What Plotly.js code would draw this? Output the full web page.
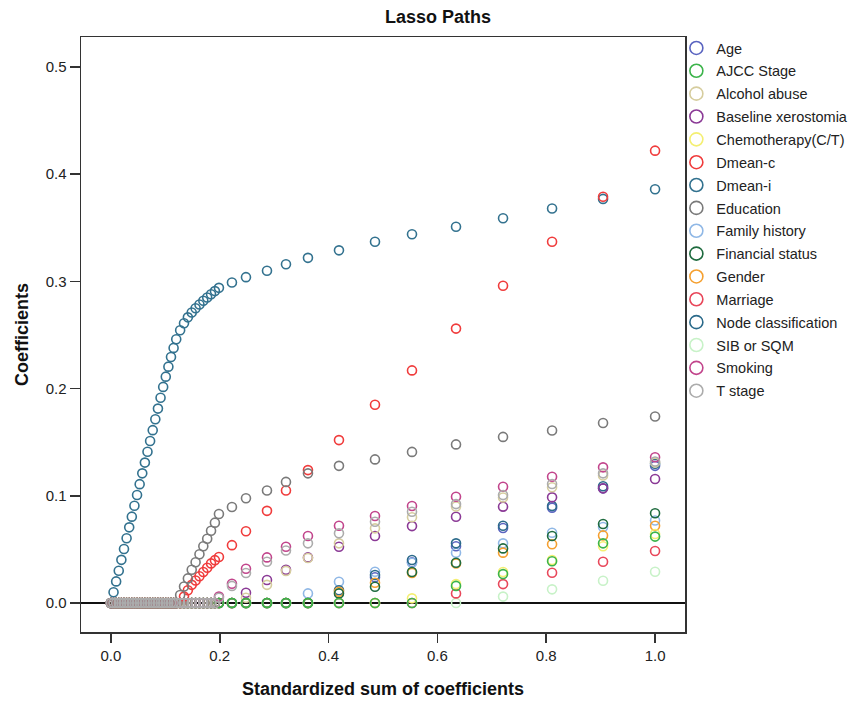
<!DOCTYPE html>
<html>
<head>
<meta charset="utf-8">
<script src="https://cdn.plot.ly/plotly-3.0.1.min.js"></script>
<style>html,body{margin:0;padding:0;background:#fff;}#chart{width:854px;height:705px;}</style>
</head>
<body>
<div id="chart"></div>
<script>
// Standardized sum of coefficients at each step of the path
const xSteps = [0,0.0048,0.0096,0.0144,0.0192,0.024,0.0288,0.0336,0.0384,0.0432,0.048,0.0528,0.0576,0.0624,0.0672,0.072,0.0768,0.0816,0.0864,0.0912,0.096,0.1008,0.1056,0.1104,0.1152,0.12,0.1272,0.1343,0.1414,0.1485,0.1556,0.1627,0.1698,0.1769,0.184,0.1911,0.1985,0.2224,0.2482,0.2868,0.3217,0.3621,0.4191,0.4853,0.5533,0.6342,0.7206,0.8107,0.9044,1.0];

const age = [0,0,0,0,0,0,0,0,0,0,0,0,0,0,0,0,0,0,0,0,0,0,0,0,0,0,0,0,0,0,0,0,0,0,0,0,0,0,0,0,0,0,0,0.024,0.038,0.053,0.070,0.089,0.107,0.128];
const ajcc = [0,0,0,0,0,0,0,0,0,0,0,0,0,0,0,0,0,0,0,0,0,0,0,0,0,0,0,0,0,0,0,0,0,0,0,0,0,0,0,0,0,0,0,0,0,0.016,0.027,0.039,0.0557,0.062];
const alcohol = [0,0,0,0,0,0,0,0,0,0,0,0,0,0,0,0,0,0,0,0,0,0,0,0,0,0,0,0,0,0,0,0,0,0,0,0,0,0,0.005,0.017,0.030,0.042,0.0557,0.0697,0.080,0.090,0.0985,0.108,0.119,0.131];
const baseline = [0,0,0,0,0,0,0,0,0,0,0,0,0,0,0,0,0,0,0,0,0,0,0,0,0,0,0,0,0,0,0,0,0,0,0,0,0,0,0.0096,0.0215,0.031,0.0426,0.0525,0.0625,0.0718,0.0805,0.0899,0.0986,0.107,0.1157];
const chemo = [0,0,0,0,0,0,0,0,0,0,0,0,0,0,0,0,0,0,0,0,0,0,0,0,0,0,0,0,0,0,0,0,0,0,0,0,0,0,0,0,0,0,0,0,0.0044,0.0177,0.029,0.0401,0.053,0.0644];
const dmeanC = [0,0,0,0,0,0,0,0,0,0,0,0,0,0,0,0,0,0,0,0,0,0,0,0,0,0,0,0.006,0.012,0.017,0.021,0.025,0.029,0.033,0.037,0.040,0.043,0.054,0.067,0.086,0.105,0.124,0.152,0.185,0.217,0.256,0.296,0.337,0.379,0.422];
const dmeanI = [0,0.0101,0.0202,0.0302,0.0403,0.0504,0.0605,0.0706,0.0806,0.0907,0.1008,0.1109,0.121,0.131,0.1411,0.1512,0.1613,0.1714,0.1814,0.1915,0.2016,0.2112,0.2205,0.2295,0.238,0.246,0.2545,0.261,0.2665,0.271,0.275,0.2785,0.282,0.285,0.288,0.291,0.294,0.299,0.304,0.310,0.316,0.322,0.329,0.337,0.344,0.351,0.359,0.368,0.377,0.386];
const education = [0,0,0,0,0,0,0,0,0,0,0,0,0,0,0,0,0,0,0,0,0,0,0,0,0,0,0.0075,0.0155,0.023,0.031,0.038,0.0455,0.053,0.060,0.0675,0.075,0.083,0.0896,0.0977,0.105,0.113,0.121,0.128,0.134,0.141,0.148,0.155,0.161,0.168,0.174];
const family = [0,0,0,0,0,0,0,0,0,0,0,0,0,0,0,0,0,0,0,0,0,0,0,0,0,0,0,0,0,0,0,0,0,0,0,0,0,0,0,0,0,0.009,0.0199,0.0292,0.0376,0.0469,0.0557,0.0656,0.071,0.077];
const financial = [0,0,0,0,0,0,0,0,0,0,0,0,0,0,0,0,0,0,0,0,0,0,0,0,0,0,0,0,0,0,0,0,0,0,0,0,0,0,0,0,0,0,0.009,0.0152,0.029,0.0376,0.051,0.0625,0.0737,0.0837];
const gender = [0,0,0,0,0,0,0,0,0,0,0,0,0,0,0,0,0,0,0,0,0,0,0,0,0,0,0,0,0,0,0,0,0,0,0,0,0,0,0,0,0,0,0.0105,0.0189,0.028,0.037,0.047,0.0548,0.0631,0.0721];
const marriage = [0,0,0,0,0,0,0,0,0,0,0,0,0,0,0,0,0,0,0,0,0,0,0,0,0,0,0,0,0,0,0,0,0,0,0,0,0,0,0,0,0,0,0,0,0,0.009,0.0177,0.0283,0.0385,0.0485];
const node = [0,0,0,0,0,0,0,0,0,0,0,0,0,0,0,0,0,0,0,0,0,0,0,0,0,0,0,0,0,0,0,0,0,0,0,0,0,0,0,0,0,0,0.012,0.0261,0.0401,0.0557,0.0721,0.0905,0.109,0.130];
const sib = [0,0,0,0,0,0,0,0,0,0,0,0,0,0,0,0,0,0,0,0,0,0,0,0,0,0,0,0,0,0,0,0,0,0,0,0,0,0,0,0,0,0,0,0,0,0,0.006,0.0128,0.0208,0.0292];
const smoking = [0,0,0,0,0,0,0,0,0,0,0,0,0,0,0,0,0,0,0,0,0,0,0,0,0,0,0,0,0,0,0,0,0,0,0,0,0.006,0.018,0.032,0.0426,0.0525,0.0625,0.0721,0.0812,0.0905,0.0992,0.1085,0.1178,0.1266,0.136];
const tStage = [0,0,0,0,0,0,0,0,0,0,0,0,0,0,0,0,0,0,0,0,0,0,0,0,0,0,0,0,0,0,0,0,0,0,0,0,0.005,0.016,0.028,0.0385,0.049,0.0557,0.065,0.0759,0.0852,0.0923,0.1007,0.111,0.121,0.132];

const names = ["Age","AJCC Stage","Alcohol abuse","Baseline xerostomia","Chemotherapy(C/T)","Dmean-c","Dmean-i","Education","Family history","Financial status","Gender","Marriage","Node classification","SIB or SQM","Smoking","T stage"];
const values = [age,ajcc,alcohol,baseline,chemo,dmeanC,dmeanI,education,family,financial,gender,marriage,node,sib,smoking,tStage];
const colors = ["#5a64c0","#3cb44b","#d6cd9e","#8b3a96","#f4ef72","#f03c3c","#33728f","#7a7a7a","#90b8e6","#1f6b3f","#f5a030","#e8475a","#2b6a8a","#c8f2c8","#c2458c","#acacac"];
// drawing order (later = on top)
const drawOrder = [13,11,0,8,12,10,3,2,4,9,1,6,5,14,7,15];

const traces = [];
drawOrder.forEach(i => {
  traces.push({
    type: "scatter", mode: "markers", x: xSteps, y: values[i], name: names[i],
    showlegend: false, hoverinfo: "skip",
    marker: {symbol: "circle-open", size: 9, color: colors[i], line: {width: 1.6, color: colors[i]}}
  });
});
names.forEach((n, i) => {
  traces.push({
    type: "scatter", mode: "markers", x: [null], y: [null], name: n,
    legendgroup: "g" + i, showlegend: true,
    marker: {symbol: "circle-open", size: 13, color: colors[i], line: {width: 1.6, color: colors[i]}}
  });
});

const font = "Liberation Sans, Arial, sans-serif";
const layout = {
  width: 854, height: 705,
  paper_bgcolor: "#fff", plot_bgcolor: "#fff",
  margin: {l: 81, r: 169, t: 37, b: 73, autoexpand: false},
  font: {family: font, size: 14, color: "#222"},
  title: {text: "<b>Lasso Paths</b>", font: {family: font, size: 18, color: "#111"},
          xref: "container", x: 0.513, xanchor: "center", yref: "container", y: 0.976, yanchor: "middle"},
  xaxis: {
    range: [-0.055, 1.055], dtick: 0.2, tick0: 0, tickformat: ".1f",
    showgrid: false, zeroline: false,
    showline: true, mirror: true, linecolor: "#333", linewidth: 1.5,
    ticks: "outside", ticklen: 9, tickwidth: 1.5, tickcolor: "#333",
    tickfont: {family: font, size: 15, color: "#222"},
    title: {text: "<b>Standardized sum of coefficients</b>", font: {family: font, size: 18, color: "#111"}, standoff: 20}
  },
  yaxis: {
    range: [-0.027, 0.528], dtick: 0.1, tick0: 0, tickformat: ".1f",
    showgrid: false, zeroline: true, zerolinecolor: "#111", zerolinewidth: 1.8,
    showline: true, mirror: true, linecolor: "#333", linewidth: 1.5,
    ticks: "outside", ticklen: 10, tickwidth: 1.5, tickcolor: "#333",
    tickfont: {family: font, size: 15, color: "#222"},
    title: {text: "<b>Coefficients</b>", font: {family: font, size: 18, color: "#111"}, standoff: 12}
  },
  legend: {
    xref: "container", yref: "container",
    x: 0.792, xanchor: "left", y: 0.9546, yanchor: "top",
    font: {family: font, size: 14.5, color: "#222"},
    tracegroupgap: 1, itemwidth: 30, maxheight: 600, bgcolor: "rgba(0,0,0,0)"
  },
  showlegend: true
};

Plotly.newPlot("chart", traces, layout, {displayModeBar: false, staticPlot: true});
</script>
</body>
</html>
